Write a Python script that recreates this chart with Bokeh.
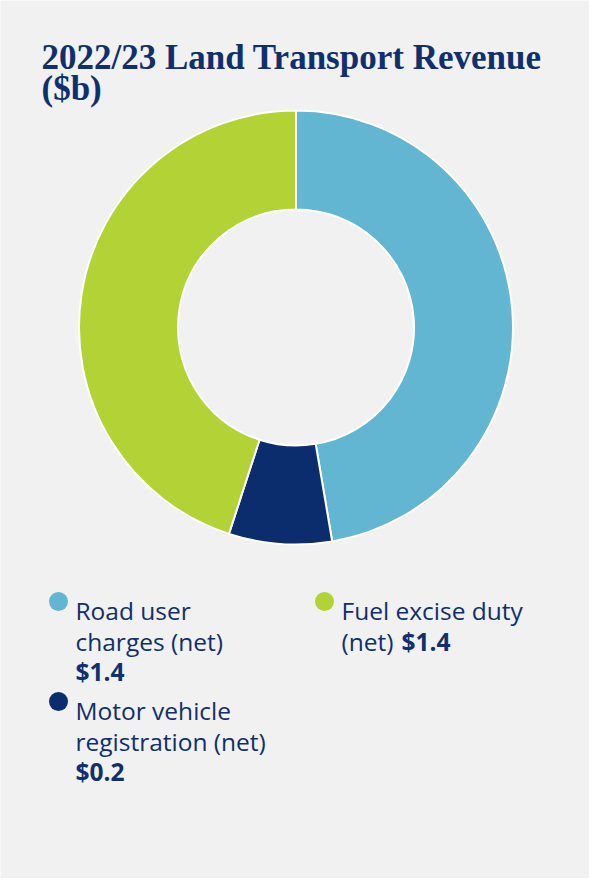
import numpy as np
from bokeh.plotting import figure
from bokeh.models import Range1d, ColumnDataSource
from bokeh.core.properties import value
from bokeh.embed import file_html
from bokeh.resources import INLINE

# ---- data ----
title_lines = ["2022/23 Land Transport Revenue", "($b)"]
categories = ["Road user charges (net)", "Motor vehicle registration (net)", "Fuel excise duty (net)"]
values = [1.42, 0.23, 1.35]
value_labels = ["$1.4", "$0.2", "$1.4"]
colors = ["#63b6d1", "#0b2c6d", "#b2d235"]
legend_wrapped = [["Road user", "charges (net)"],
                  ["Motor vehicle", "registration (net)"],
                  ["Fuel excise duty", "(net) "]]

W, H = 589, 878
BG = "#f1f1f1"
TXT = "#0f2f6d"

p = figure(width=W, height=H, output_backend="svg", toolbar_location=None,
           x_range=Range1d(0, W), y_range=Range1d(0, H), min_border=0,
           background_fill_color=BG, border_fill_color=BG, outline_line_color=None)
p.axis.visible = False
p.grid.visible = False

# title
p.text(x=[41, 41], y=[821, 790], text=title_lines, text_font=value("Liberation Serif"),
       text_font_style="bold", text_font_size="35px", text_color=TXT,
       text_baseline="alphabetic", text_align="left")

# donut
vals = np.array(values)
frac = vals / vals.sum()
cum = np.concatenate([[0], np.cumsum(frac)])
start = np.pi / 2 - 2 * np.pi * cum[:-1]
end = np.pi / 2 - 2 * np.pi * cum[1:]
src = ColumnDataSource(dict(start=start, end=end, color=colors))
p.annular_wedge(x=295.5, y=551, inner_radius=118, outer_radius=217,
                start_angle="start", end_angle="end", direction="clock",
                fill_color="color", line_color="white", line_width=2, source=src)

# legend
marker_pos = [(58, 277), (58, 177), (324, 277)]
text_x = [75, 75, 341]
for i in range(3):
    mx, my = marker_pos[i]
    p.scatter(x=[mx], y=[my], size=19, marker="circle", fill_color=colors[i], line_color=None)
    lines = legend_wrapped[i]
    ys = [my - 9, my - 40]
    p.text(x=[text_x[i]] * 2, y=ys, text=lines, text_font=value("Open Sans"),
           text_font_size="24.5px", text_color=TXT, text_baseline="alphabetic")
    if i < 2:
        p.text(x=[text_x[i]], y=[my - 70], text=[value_labels[i]], text_font=value("Open Sans"),
               text_font_style="bold", text_font_size="24.5px", text_color=TXT,
               text_baseline="alphabetic")
    else:
        p.text(x=[401], y=[my - 40], text=[value_labels[i]], text_font=value("Open Sans"),
               text_font_style="bold", text_font_size="24.5px", text_color=TXT,
               text_baseline="alphabetic")

open("out.html", "w").write(file_html(p, INLINE))
